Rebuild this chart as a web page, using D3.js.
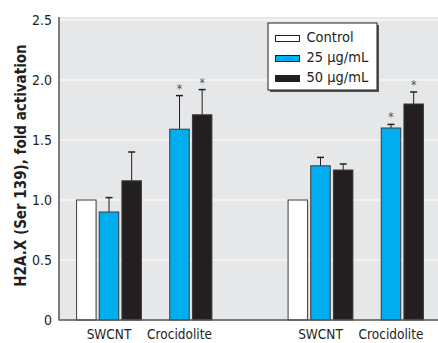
<!DOCTYPE html>
<style>
body { margin: 0; background: #fff; }
svg { display: block; }
text { font-family: "Liberation Sans Narrow", "DejaVu Sans Condensed", "Roboto", sans-serif; fill: #231f20; }
</style>
<script src="https://d3js.org/d3.v7.min.js"></script>
<svg width="438" height="343"></svg>
<script>
// categories (slot 2 is the empty gap between the two experiments)
var groups = ["SWCNT", "Crocidolite", "", "SWCNT ", "Crocidolite "];
var series = ["Control", "25 µg/mL", "50 µg/mL"];
var colors = ["#ffffff", "#00aeef", "#231f20"];

// mean values per series, null = no bar
var control = [1.0, null, null, 1.0, null];
var dose25 = [0.90, 1.59, null, 1.285, 1.60];
var dose50 = [1.16, 1.71, null, 1.25, 1.80];
// upper end of error bars
var err25 = [1.02, 1.87, null, 1.355, 1.63];
var err50 = [1.40, 1.92, null, 1.30, 1.90];
// significance marks
var star25 = [false, true, false, false, true];
var star50 = [false, true, false, false, true];

var yTicks = [0, 0.5, 1.0, 1.5, 2.0, 2.5];

var svg = d3.select("svg");

var plot = { left: 59, right: 438, top: 17, bottom: 320 };

var y = d3.scaleLinear().domain([0, 2.5]).range([320, 20]);
var x0 = d3.scaleBand().domain(groups).range([73.75, 426.25]);
var x1 = d3.scaleBand().domain(series).range([-34, 34]).paddingInner(0.14).paddingOuter(0.07);

// background
svg.append("rect")
  .attr("x", plot.left).attr("y", plot.top)
  .attr("width", plot.right - plot.left).attr("height", plot.bottom - plot.top)
  .attr("fill", "#e6e7e8");

// gridlines
svg.selectAll(".grid").data(yTicks.filter(function(d) { return d > 0; }))
  .enter().append("line")
  .attr("x1", plot.left).attr("x2", plot.right)
  .attr("y1", function(d) { return y(d); }).attr("y2", function(d) { return y(d); })
  .attr("stroke", "#fff").attr("stroke-width", 1);

// bars
var rows = [];
var vals = [control, dose25, dose50];
var errs = [null, err25, err50];
var stars = [null, star25, star50];
groups.forEach(function(g, i) {
  series.forEach(function(s, j) {
    if (vals[j][i] == null) return;
    rows.push({ g: g, s: s, j: j, v: vals[j][i],
      e: errs[j] ? errs[j][i] : null,
      star: stars[j] ? stars[j][i] : false });
  });
});

function cx(d) { return x0(d.g) + x0.bandwidth() / 2 + x1(d.s) + x1.bandwidth() / 2; }

svg.selectAll(".err").data(rows.filter(function(d) { return d.e != null; }))
  .enter().append("g")
  .each(function(d) {
    var g = d3.select(this);
    g.append("line").attr("x1", cx(d)).attr("x2", cx(d))
      .attr("y1", y(d.v)).attr("y2", y(d.e))
      .attr("stroke", "#231f20").attr("stroke-width", 1);
    g.append("line").attr("x1", cx(d) - 3.5).attr("x2", cx(d) + 3.5)
      .attr("y1", y(d.e)).attr("y2", y(d.e))
      .attr("stroke", "#231f20").attr("stroke-width", 1.5);
  });

svg.selectAll(".bar").data(rows)
  .enter().append("rect")
  .attr("x", function(d) { return x0(d.g) + x0.bandwidth() / 2 + x1(d.s); })
  .attr("width", x1.bandwidth())
  .attr("y", function(d) { return y(d.v); })
  .attr("height", function(d) { return y(0) - y(d.v); })
  .attr("fill", function(d) { return colors[d.j]; })
  .attr("stroke", "#3a3a3a").attr("stroke-width", 1);

svg.selectAll(".star").data(rows.filter(function(d) { return d.star; }))
  .enter().append("text")
  .attr("x", cx).attr("y", function(d) { return y(d.e) - 3; })
  .attr("text-anchor", "middle")
  .style("font-size", "12px").style("fill", "#555")
  .text("*");

// axes lines
svg.append("line").attr("x1", plot.left).attr("x2", plot.left)
  .attr("y1", plot.top).attr("y2", plot.bottom + 0.5)
  .attr("stroke", "#555").attr("stroke-width", 1.5);
svg.append("line").attr("x1", plot.left).attr("x2", plot.right)
  .attr("y1", plot.bottom).attr("y2", plot.bottom)
  .attr("stroke", "#555").attr("stroke-width", 1.5);

// y tick labels
svg.selectAll(".ytick").data(yTicks)
  .enter().append("text")
  .attr("x", 52).attr("y", function(d) { return y(d) + 5; })
  .attr("text-anchor", "end")
  .style("font-size", "14px")
  .text(function(d) { return d === 0 ? "0" : d3.format(".1f")(d); });

// x labels
svg.selectAll(".xtick").data(groups.filter(function(g) { return g !== ""; }))
  .enter().append("text")
  .attr("x", function(g) { return x0(g) + x0.bandwidth() / 2; })
  .attr("y", 339)
  .attr("text-anchor", "middle")
  .style("font-size", "13.5px")
  .text(function(g) { return g.trim(); });

// y title
svg.append("text")
  .attr("transform", "translate(26,165.5) rotate(-90)")
  .attr("text-anchor", "middle")
  .style("font-size", "15px").style("font-weight", "bold")
  .text("H2A.X (Ser 139), fold activation");

// legend
var lg = svg.append("g").attr("transform", "translate(268,23)");
lg.append("rect").attr("x", 2).attr("y", 2).attr("width", 109).attr("height", 67).attr("fill", "#555");
lg.append("rect").attr("x", 0).attr("y", 0).attr("width", 109).attr("height", 67)
  .attr("fill", "#fff").attr("stroke", "#231f20").attr("stroke-width", 1);
series.forEach(function(s, j) {
  lg.append("rect").attr("x", 7.5).attr("y", 12.5 + j * 20).attr("width", 24).attr("height", 6)
    .attr("fill", colors[j]).attr("stroke", "#231f20").attr("stroke-width", 1);
  lg.append("text").attr("x", 38.5).attr("y", 19 + j * 20)
    .style("font-size", "14.5px").text(s);
});
</script>
